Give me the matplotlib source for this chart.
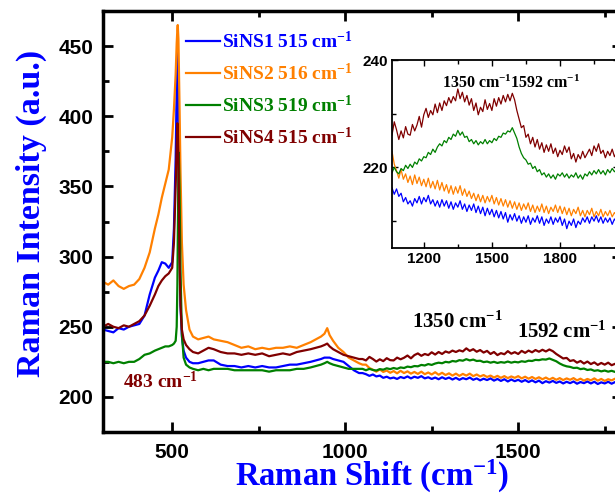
import numpy as np
import matplotlib
matplotlib.use("Agg")
import matplotlib.pyplot as plt
from matplotlib.ticker import MultipleLocator, FixedLocator

plt.rcParams["font.family"] = ["Liberation Serif", "DejaVu Serif"]
plt.rcParams["mathtext.fontset"] = "custom"
plt.rcParams["mathtext.rm"] = "Liberation Serif:bold"
plt.rcParams["mathtext.bf"] = "Liberation Serif:bold"
plt.rcParams["mathtext.it"] = "Liberation Serif:bold"

# ---- data (Raman shift in cm-1, intensity in a.u.) ----
shift_low = [300, 315, 330, 345, 360, 375, 390, 405, 420, 435,
             450, 460, 470, 480, 490, 500, 505, 510, 513, 515,
             516, 518, 519, 521, 524, 528, 533, 540, 550, 560,
             575, 590, 605, 620, 640, 660, 680, 700, 720, 740,
             760, 780, 800, 820, 840, 860, 880, 900, 915, 930,
             940, 948, 955, 965, 980, 995, 1010, 1025, 1040, 1050]
shift_high = [1060, 1070, 1080, 1090, 1100, 1110, 1120, 1130, 1140, 1150,
              1160, 1170, 1180, 1190, 1200, 1210, 1220, 1230, 1240, 1250,
              1260, 1270, 1280, 1290, 1300, 1310, 1320, 1330, 1340, 1350,
              1360, 1370, 1380, 1390, 1400, 1410, 1420, 1430, 1440, 1450,
              1460, 1470, 1480, 1490, 1500, 1510, 1520, 1530, 1540, 1550,
              1560, 1570, 1580, 1590, 1600, 1610, 1620, 1630, 1640, 1650,
              1660, 1670, 1680, 1690, 1700, 1710, 1720, 1730, 1740, 1750,
              1760, 1770, 1780, 1790, 1800, 1810, 1820, 1830, 1840, 1850,
              1860, 1870, 1880, 1890, 1900, 1910, 1920, 1930, 1940, 1950,
              1960, 1970, 1980, 1990, 2000, 2010, 2020, 2030, 2040, 2050,
              2060]

sins1_low = [248, 247, 246, 249, 248, 250, 251, 252, 258, 273,
             285, 290, 296, 295, 292, 296, 320, 370, 420, 447,
             440, 400, 365, 310, 265, 243, 233, 228, 225, 224,
             224, 225, 226, 226, 223, 222, 222, 221, 222, 221,
             222, 221, 221, 222, 223, 223, 224, 225, 226, 227,
             228, 228, 228, 227, 226, 225, 222, 219, 217, 217]
sins2_low = [282, 280, 283, 279, 277, 279, 280, 284, 292, 303,
             320, 330, 342, 352, 362, 385, 405, 430, 452, 462,
             465, 455, 440, 410, 360, 310, 280, 262, 248, 243,
             241, 242, 243, 241, 240, 239, 237, 235, 236, 234,
             235, 234, 235, 235, 236, 235, 237, 239, 241, 243,
             245, 249, 244, 240, 235, 232, 228, 226, 224, 223]
sins3_low = [225, 225, 224, 225, 224, 225, 225, 227, 230, 231,
             233, 234, 235, 236, 236, 237, 238, 240, 250, 280,
             310, 360, 374, 350, 290, 245, 228, 223, 221, 220,
             219, 220, 219, 220, 220, 220, 219, 219, 219, 219,
             219, 218, 219, 219, 219, 220, 220, 221, 222, 223,
             224, 225, 224, 223, 222, 221, 220, 220, 220, 220]
sins4_low = [250, 252, 250, 249, 251, 250, 252, 254, 258, 265,
             273, 279, 283, 286, 288, 292, 310, 350, 380, 395,
             392, 370, 345, 300, 265, 248, 241, 237, 234, 232,
             231, 233, 235, 234, 232, 231, 231, 230, 231, 230,
             231, 229, 230, 231, 230, 232, 233, 234, 235, 236,
             237, 238, 236, 234, 232, 230, 229, 228, 227, 227]

sins1_high = [216.2, 215.0, 216.0, 214.6, 215.2, 213.6, 214.4, 213.2, 213.8, 212.8,
              214.2, 213.4, 214.6, 213.2, 214.4, 213.6, 214.8, 213.2, 214.0, 212.8,
              213.8, 212.6, 214.0, 212.8, 213.8, 212.4, 213.6, 212.2, 213.4, 212.6,
              213.8, 212.2, 213.2, 211.8, 213.0, 212.0, 213.2, 211.6, 212.8, 211.4,
              212.6, 211.0, 212.4, 211.2, 212.2, 210.8, 212.0, 210.6, 211.8, 210.4,
              211.6, 209.8, 211.2, 210.2, 211.4, 210.0, 211.0, 209.6, 210.8, 209.8,
              211.0, 209.4, 210.6, 209.8, 211.0, 209.6, 210.8, 209.2, 210.4, 209.6,
              210.8, 209.4, 210.6, 209.8, 210.8, 209.2, 210.4, 208.6, 210.0, 209.2,
              210.4, 208.8, 210.0, 209.4, 210.6, 209.8, 210.8, 209.6, 210.8, 210.0,
              211.0, 209.8, 210.8, 209.6, 210.6, 209.8, 210.6, 209.4, 210.4, 209.8,
              210.4]
sins2_high = [223.0, 220.6, 219.4, 218.0, 219.6, 217.8, 218.8, 217.2, 218.4, 216.8,
              218.6, 217.0, 218.2, 216.6, 217.8, 216.4, 218.0, 216.2, 217.4, 216.0,
              217.6, 215.8, 217.2, 215.6, 216.8, 215.2, 216.6, 215.0, 216.4, 215.2,
              216.6, 214.8, 216.0, 214.6, 215.6, 214.2, 215.2, 213.8, 215.0, 213.6,
              214.8, 213.4, 214.6, 213.6, 214.8, 213.2, 214.4, 213.0, 214.2, 212.8,
              214.0, 212.6, 213.8, 212.4, 213.6, 212.2, 213.4, 212.0, 213.2, 212.2,
              213.4, 211.8, 213.0, 211.6, 212.8, 211.8, 213.2, 211.6, 212.8, 211.4,
              212.6, 211.8, 213.0, 211.6, 212.8, 211.4, 212.6, 211.2, 212.4, 211.0,
              212.2, 211.4, 212.6, 211.0, 212.0, 210.8, 212.0, 211.2, 212.4, 210.8,
              211.8, 211.0, 212.2, 210.8, 211.8, 211.0, 212.0, 210.8, 211.6, 211.0,
              211.6]
sins3_high = [219.0, 220.0, 219.2, 218.8, 219.8, 219.4, 220.4, 219.8, 220.6, 220.0,
              221.0, 220.6, 221.6, 221.2, 222.0, 221.8, 222.8, 222.4, 223.4, 222.8,
              223.8, 224.4, 224.0, 225.0, 224.6, 225.6, 225.2, 226.2, 225.8, 226.9,
              226.0, 226.6, 225.6, 225.8, 224.8, 225.2, 224.4, 225.0, 224.2, 224.8,
              224.4, 225.2, 224.4, 225.0, 224.6, 225.4, 225.0, 225.8, 225.6, 226.4,
              226.2, 226.8, 226.6, 227.4, 226.4, 225.4, 223.8, 222.6, 221.8, 221.4,
              220.6, 220.8, 219.8, 220.2, 219.2, 219.6, 218.6, 219.0, 218.2, 218.8,
              218.0, 218.6, 217.8, 218.8, 218.4, 219.0, 218.2, 218.8, 218.0, 218.6,
              218.2, 219.0, 218.0, 218.6, 217.8, 218.8, 218.4, 219.2, 218.6, 219.4,
              218.8, 219.6, 218.8, 219.4, 218.6, 219.6, 219.0, 219.8, 219.2, 219.6,
              219.0]
sins4_high = [226.0, 228.5, 227.0, 225.2, 226.8, 225.5, 227.6, 226.2, 226.0, 228.0,
              226.8, 227.9, 229.5, 227.5, 229.8, 231.0, 229.3, 230.6, 229.8, 231.8,
              230.2, 232.0, 230.6, 232.4, 231.5, 233.0, 232.0, 233.2, 232.4, 234.6,
              232.8, 234.0, 232.2, 233.4, 231.6, 232.8, 230.6, 232.0, 229.8, 231.2,
              230.4, 232.6, 230.8, 231.9, 230.6, 232.8, 231.4, 233.0, 231.8, 233.4,
              232.2, 233.6, 232.4, 233.8, 232.6, 230.6, 229.0, 227.4, 227.8, 225.6,
              226.2, 224.4, 225.6, 223.8, 225.2, 223.4, 224.6, 222.8, 224.2, 223.0,
              224.4, 222.6, 223.6, 222.0, 223.2, 222.4, 224.0, 222.8, 223.8, 221.6,
              222.6, 221.0, 222.4, 221.6, 223.0, 221.8, 222.6, 223.4, 222.2, 224.0,
              223.0, 224.4, 222.6, 223.2, 221.8, 223.0, 222.2, 223.4, 222.0, 222.8,
              222.2]

names = ["SiNS1 515 cm$^{-1}$", "SiNS2 516 cm$^{-1}$",
         "SiNS3 519 cm$^{-1}$", "SiNS4 515 cm$^{-1}$"]
colors = ["#0000FF", "#FF8000", "#008000", "#800000"]

shift = np.array(shift_low + shift_high)
spectra = [np.array(sins1_low + sins1_high), np.array(sins2_low + sins2_high),
           np.array(sins3_low + sins3_high), np.array(sins4_low + sins4_high)]

W, H = 615, 493
fig = plt.figure(figsize=(W / 100, H / 100), dpi=100)

# main axes (right spine lies just past the cropped edge)
ax = fig.add_axes([103 / W, 61 / H, 519 / W, 421 / H])
for y, c, lab in zip(spectra, colors, names):
    ax.plot(shift, y, color=c, lw=1.6, label=lab)

ax.set_xlim(300, 1800)
ax.set_ylim(175, 475)
ax.xaxis.set_major_locator(FixedLocator([500, 1000, 1500]))
ax.xaxis.set_minor_locator(FixedLocator([750, 1250, 1750]))
ax.yaxis.set_major_locator(MultipleLocator(50))
ax.yaxis.set_minor_locator(MultipleLocator(25))
ax.tick_params(which="both", direction="in", top=True, right=True, width=2)
ax.tick_params(which="major", length=7)
ax.tick_params(which="minor", length=4)
ax.tick_params(axis="y", pad=7)
ax.tick_params(axis="x", pad=8)
for lbl in ax.get_xticklabels() + ax.get_yticklabels():
    lbl.set_family("Liberation Sans")
    lbl.set_fontweight("bold")
    lbl.set_fontsize(15)
for sp in ax.spines.values():
    sp.set_linewidth(2.5)

ax.set_xlabel("Raman Shift (cm$^{-1}$)", color="#0000FF", fontsize=23.5, fontweight="bold")
ax.set_ylabel("Raman Intensity (a.u.)", color="#0000FF", fontsize=24.5, fontweight="bold")
ax.xaxis.set_label_coords(0.518, -0.062)
ax.yaxis.set_label_coords(-0.108, 0.52)

leg = ax.legend(loc="upper left", bbox_to_anchor=(0.138, 0.98), frameon=False,
                fontsize=14, handlelength=1.75, handletextpad=0.1,
                labelspacing=0.55, borderaxespad=0.2)
for txt, c in zip(leg.get_texts(), colors):
    txt.set_color(c)
    txt.set_fontweight("bold")

ax.text(358, 211, "483 cm$^{-1}$", color="#800000", fontsize=14,
        fontweight="bold", va="center", ha="left")
ax.text(1194, 253, "1350 cm$^{-1}$", color="black", fontsize=15,
        fontweight="bold", va="center", ha="left")
ax.text(1497, 246, "1592 cm$^{-1}$", color="black", fontsize=15,
        fontweight="bold", va="center", ha="left")

# inset zoom on the D and G band region
ins = fig.add_axes([392 / W, 245 / H, 227 / W, 188 / H])
ins.set_facecolor("white")
for y, c in zip(spectra, colors):
    ins.plot(shift, y, color=c, lw=0.9)
ins.set_xlim(1060, 2060)
ins.set_ylim(205, 240)
ins.xaxis.set_major_locator(FixedLocator([1200, 1500, 1800]))
ins.xaxis.set_minor_locator(FixedLocator([1350, 1650, 1950]))
ins.yaxis.set_major_locator(FixedLocator([220, 240]))
ins.yaxis.set_minor_locator(FixedLocator([210, 230]))
ins.tick_params(which="both", direction="in", top=True, right=True, width=1)
ins.tick_params(which="major", length=4, pad=3)
ins.tick_params(which="minor", length=3)
for lbl in ins.get_xticklabels() + ins.get_yticklabels():
    lbl.set_family("Liberation Sans")
    lbl.set_fontweight("bold")
    lbl.set_fontsize(11)
for sp in ins.spines.values():
    sp.set_linewidth(1.3)
ins.text(1280, 235.6, "1350 cm$^{-1}$1592 cm$^{-1}$", color="black", fontsize=11.5,
         fontweight="bold", va="center", ha="left")

fig.savefig("out.png", dpi=100)
